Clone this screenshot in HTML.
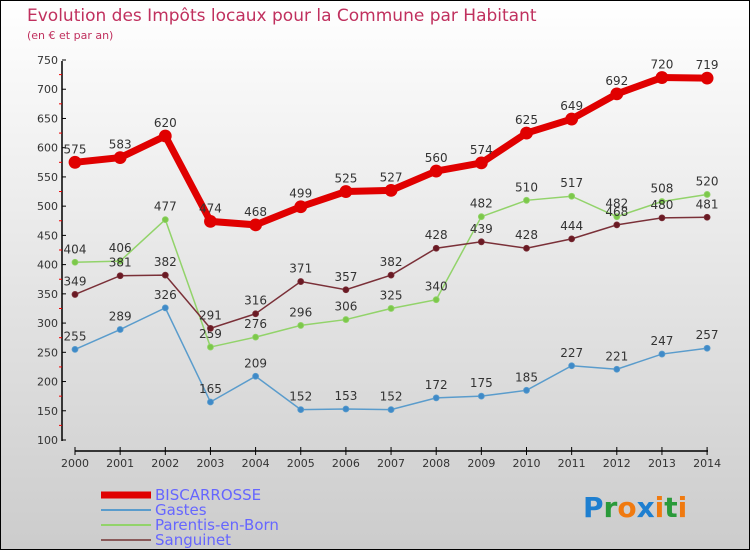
<!DOCTYPE html>
<html><head><meta charset="utf-8"><style>
body{margin:0}
#c{position:relative;width:748px;height:548px;border:1px solid #000;background:linear-gradient(#fff,#ccc);overflow:hidden;font-family:"DejaVu Sans","Liberation Sans",sans-serif}
</style></head><body>
<div id="c">
<svg id="s" width="748" height="548"></svg>
</div>
<script>
const years=[2000,2001,2002,2003,2004,2005,2006,2007,2008,2009,2010,2011,2012,2013,2014];
const biscarrosse=[575,583,620,474,468,499,525,527,560,574,625,649,692,720,719];
const gastes=[255,289,326,165,209,152,153,152,172,175,185,227,221,247,257];
const parentis=[404,406,477,259,276,296,306,325,340,482,510,517,482,508,520];
const sanguinet=[349,381,382,291,316,371,357,382,428,439,428,444,468,480,481];
const yTicks=[100,150,200,250,300,350,400,450,500,550,600,650,700,750];
const NS="http://www.w3.org/2000/svg",s=document.getElementById('s');
const X=i=>74+i*45.15, Y=v=>439-(v-100)*380/650;
function el(t,a,p){const e=document.createElementNS(NS,t);for(const k in a)e.setAttribute(k,a[k]);(p||s).appendChild(e);return e;}
function tx(x,y,str,a){const e=el('text',Object.assign({x:x,y:y},a));e.textContent=str;return e;}
let t=tx(26,20,'Evolution des Impôts locaux pour la Commune par Habitant',{fill:'#c0305e','font-size':17});

t=tx(26,38,'(en € et par an)',{fill:'#c0305e','font-size':11});

let ax=el('line',{x1:61,y1:60,x2:61,y2:440,stroke:'#000','stroke-width':1.5});

yTicks.forEach((v,i)=>{el('line',{x1:61,x2:65,y1:Y(v),y2:Y(v),stroke:'#000'});
 if(i<yTicks.length-1)el('line',{x1:58,x2:61,y1:Y(v+25),y2:Y(v+25),stroke:'#e00'});
 const l=tx(57,Y(v)+4,v,{'font-size':11,fill:'#333','text-anchor':'end'});
 });
ax=el('line',{x1:74,y1:450,x2:707,y2:450,stroke:'#000','stroke-width':1.5});

years.forEach((y,i)=>{el('line',{x1:X(i),x2:X(i),y1:446,y2:454,stroke:'#000'});
 const l=tx(X(i),466,y,{'font-size':11,fill:'#333','text-anchor':'middle'});
 });
function series(d,col,dot,w,r,name){
 const p=el('polyline',{points:d.map((v,i)=>X(i)+','+Y(v)).join(' '),fill:'none',stroke:col,'stroke-width':w});
 
 d.forEach((v,i)=>{const c=el('circle',{cx:X(i),cy:Y(v),r:r,fill:dot,stroke:col,'stroke-width':0.8});
  
  const l=tx(X(i),Y(v)-9,v,{'font-size':12,fill:'#333','text-anchor':'middle'});
  });
}
series(gastes,'#5a9ccc','#3f8ac8',1.5,3,'gastes');
series(parentis,'#92d36a','#7cc84a',1.5,3,'parentis');
series(sanguinet,'#7a3038','#6a1a24',1.5,3,'sanguinet');
series(biscarrosse,'#e00000','#e00000',7,6,'biscarrosse');
const leg=[['BISCARROSSE','#e00000',7],['Gastes','#5a9ccc',2],['Parentis-en-Born','#92d36a',2],['Sanguinet','#8a5a5a',2]];
leg.forEach((L,i)=>{const y=492+i*15;
 const g=el('g',{});
 el('line',{x1:100,x2:150,y1:y+2,y2:y+2,stroke:L[1],'stroke-width':L[2]},g);
 tx(154,y+7,L[0],{'font-size':15,fill:'#6666ff'},g);});
const lg=el('text',{x:582,y:516,'font-size':28,'font-weight':'bold'});

[['P','#1e7fd0'],['r','#2a9a3a'],['o','#f07a10'],['x','#1e7fd0'],['i','#f07a10'],['t','#2a9a3a'],['i','#f07a10']].forEach(c=>{const sp=el('tspan',{fill:c[1]},lg);sp.textContent=c[0];});
</script>
</body></html>
